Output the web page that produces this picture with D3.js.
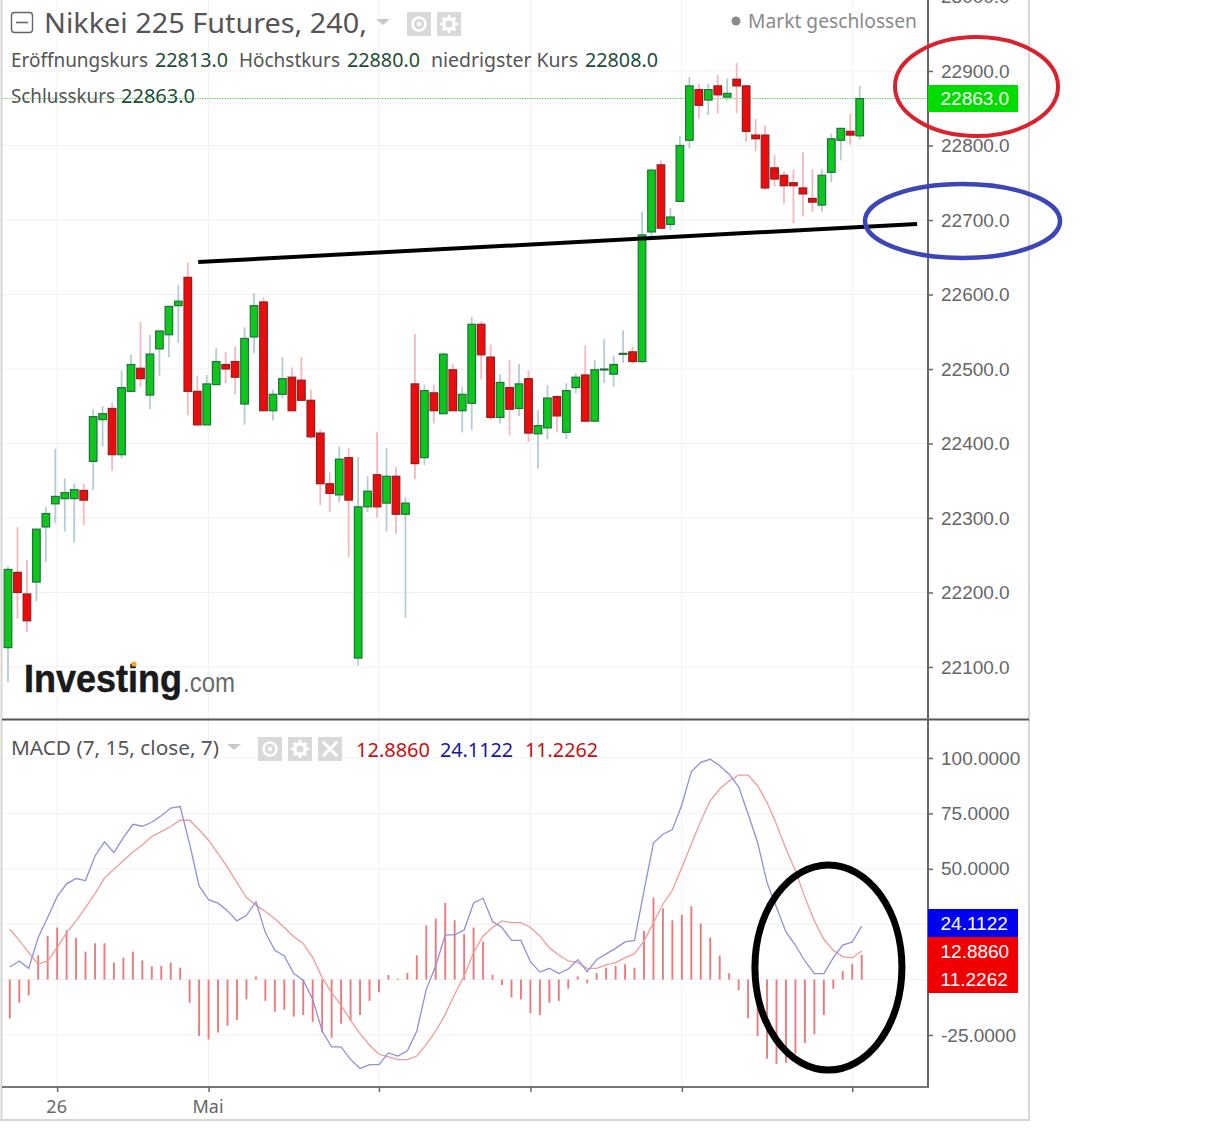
<!DOCTYPE html>
<html><head><meta charset="utf-8">
<script src="https://cdn.jsdelivr.net/npm/d3@7/dist/d3.min.js"></script>
<style>html,body{margin:0;padding:0;background:#fff}svg{display:block}</style>
</head><body><svg id="c" width="1225" height="1130"></svg>
<script>
const opens=[22126,22227,22198,22214,22288,22319,22326,22326,22337,22376,22432,22447,22385,22470,22501,22465,22527,22546,22585,22623,22470,22425,22479,22506,22510,22453,22543,22590,22444,22466,22489,22485,22458,22414,22346,22331,22381,22112,22315,22358,22320,22356,22305,22480,22381,22468,22440,22499,22444,22454,22560,22516,22435,22475,22447,22487,22413,22421,22463,22415,22475,22492,22430,22499,22493,22520,22523,22510,22684,22774,22694,22725,22807,22875,22861,22880,22865,22889,22880,22814,22814,22770,22760,22750,22743,22729,22720,22764,22807,22819,22813];
const highs=[22235,22288,22244,22285,22315,22393,22353,22346,22346,22446,22450,22455,22498,22519,22563,22546,22551,22584,22613,22643,22491,22492,22528,22523,22530,22556,22602,22596,22472,22516,22502,22516,22472,22419,22361,22396,22394,22382,22356,22415,22394,22368,22328,22547,22479,22479,22522,22507,22476,22570,22564,22533,22493,22512,22507,22498,22445,22478,22465,22481,22494,22532,22512,22540,22518,22552,22530,22711,22767,22780,22716,22813,22892,22883,22883,22895,22890,22911,22880,22836,22827,22787,22765,22768,22791,22768,22768,22816,22823,22843,22880];
const lows=[22080,22165,22147,22188,22241,22293,22282,22267,22291,22338,22396,22363,22380,22470,22476,22446,22491,22516,22535,22438,22425,22425,22479,22481,22466,22425,22521,22444,22431,22461,22444,22458,22406,22317,22308,22321,22248,22102,22308,22300,22282,22279,22166,22352,22371,22427,22440,22444,22415,22418,22486,22432,22427,22411,22437,22402,22366,22406,22415,22406,22467,22428,22430,22481,22476,22508,22507,22508,22675,22689,22687,22725,22796,22836,22841,22843,22861,22843,22805,22792,22740,22745,22722,22696,22705,22711,22711,22751,22780,22801,22808];
const closes=[22231,22200,22162,22285,22306,22329,22334,22338,22324,22436,22440,22385,22475,22506,22487,22520,22551,22584,22591,22470,22425,22480,22510,22500,22489,22541,22585,22444,22466,22487,22444,22458,22409,22346,22333,22379,22324,22315,22336,22315,22356,22305,22320,22373,22471,22444,22520,22444,22466,22560,22519,22435,22482,22446,22480,22414,22424,22461,22437,22471,22489,22430,22499,22500,22506,22521,22510,22680,22767,22689,22704,22800,22880,22854,22875,22868,22870,22880,22819,22809,22743,22755,22746,22746,22735,22724,22760,22809,22823,22814,22863];
const macdLine=[5.7,8.4,5.1,19.0,28.0,37.5,43.2,45.6,44.7,55.8,62.2,57.3,64.1,70.1,69.2,71.0,73.9,77.4,78.1,61.1,42.3,36.1,34.5,31.0,26.5,29.0,35.1,21.2,13.2,10.7,2.7,-0.3,-8.9,-23.2,-30.4,-30.4,-36.0,-40.1,-38.4,-38.4,-33.1,-34.5,-32.1,-23.2,-4.4,6.2,20.2,20.2,22.4,34.6,36.7,26.2,23.5,17.7,17.7,8.1,3.4,5.1,2.7,4.8,9.0,3.6,9.0,11.6,14.1,17.0,17.7,40.0,61.6,65.6,67.7,78.9,93.9,98.0,99.4,96.5,92.7,87.0,74.7,61.9,43.8,32.5,21.5,15.5,8.4,2.7,2.7,9.9,15.6,17.0,24.1122];
const signalLine=[22.7,17.7,12.2,6.9,8.4,14.4,21.1,26.5,32.5,38.8,45.8,49.8,53.6,57.6,60.7,64.6,66.8,69.1,71.9,71.9,67.6,62.9,56.9,50.6,43.8,37.0,33.6,30.7,27.5,23.5,19.3,16.2,9.9,0.9,-5.9,-11.6,-18.4,-24.4,-29.5,-33.7,-34.9,-36.1,-36.1,-34.5,-29.2,-23.2,-15.7,-6.6,1.6,12.2,19.7,23.5,26.5,25.7,25.7,23.5,19.7,14.4,11.1,8.4,7.7,5.1,5.1,6.6,7.7,9.9,11.7,17.4,25.7,34.0,40.3,50.6,61.1,71.6,80.7,86.0,89.7,92.3,92.3,87.5,79.9,70.1,58.9,49.1,37.0,26.5,18.2,13.2,10.4,9.8,12.886];
const histogram=[-17.5,-10.4,-7.1,11.0,19.7,23.5,22.3,18.8,12.6,16.4,16.4,7.7,9.9,12.6,8.6,6.0,6.2,7.7,5.4,-10.4,-25.5,-27.0,-23.9,-20.8,-18.2,-8.9,1.4,-9.6,-14.5,-13.6,-16.7,-16.0,-19.1,-23.9,-26.2,-19.9,-18.7,-16.0,-9.6,-5.7,2.1,0.5,3.0,11.0,24.4,27.5,34.6,26.8,20.5,23.5,17.2,2.2,-2.4,-8.1,-8.9,-15.2,-16.0,-10.4,-9.6,-4.1,1.4,-1.7,3.0,5.4,6.2,6.9,5.4,22.0,37.0,32.2,26.8,29.2,33.1,25.3,19.0,10.8,2.9,-4.8,-17.5,-25.5,-35.7,-38.0,-37.5,-33.4,-28.6,-24.7,-16.0,-4.1,3.9,7.1,11.2262];
const priceTicks=[22100,22200,22300,22400,22500,22600,22700,22800,22900,23000];
const macdTicks=[-25,0,25,50,75,100];
const macdHiddenLabels=[0,25];
const timeTickIndex=[5,21,39,55,71,89];
const timeTickLabels=['26','Mai','','','',''];
const lastPrice=22863;
const lastValues=[24.1122,12.8860,11.2262];
const trendIndex=[20.1,96.06];
const trendPrice=[22643.6,22694.6];
const redRing={idx:[93.73,110.96],val:[22945.6,22812.7]};
const blueRing={idx:[90.56,111.17],val:[22748.3,22649]};
const blackRing={idx:[78.72,94.25],val:[51.7,-40.8]};

const svg=d3.select('#c');
const x=d3.scaleLinear().domain([0,90]).range([8,859.7]);
const xm=d3.scaleLinear().domain([0,90]).range([9.8,861.7]);
const y=d3.scaleLinear().domain([22100,22900]).range([667,71]);
const ym=d3.scaleLinear().domain([-25,100]).range([1035,758]);
const AXF='"Liberation Sans",Arial,sans-serif', UIF='"Noto Sans",sans-serif';
const GRID='#f1f1f1', AX='#666';

// grid
const g=svg.append('g');
g.selectAll('.hp').data(priceTicks).join('line').attr('x1',2).attr('x2',928).attr('y1',d=>y(d)).attr('y2',d=>y(d)).attr('stroke',GRID);
g.selectAll('.hm').data(macdTicks).join('line').attr('x1',2).attr('x2',928).attr('y1',d=>ym(d)).attr('y2',d=>ym(d)).attr('stroke',GRID);
g.selectAll('.v').data(timeTickIndex).join('line').attr('x1',d=>xm(d)).attr('x2',d=>xm(d)).attr('y1',0).attr('y2',1087).attr('stroke',GRID);

// logo
const logo=svg.append('g');
logo.append('text').attr('x',24).attr('y',692).attr('font-family',AXF).attr('font-weight','bold').attr('font-size',39).attr('fill','#1a1a1a').attr('stroke','#1a1a1a').attr('stroke-width',.5).attr('textLength',158).attr('lengthAdjust','spacingAndGlyphs').text('Investing');
logo.append('text').attr('x',183).attr('y',692).attr('font-family',AXF).attr('font-size',27).attr('fill','#6b6b6b').attr('textLength',52).attr('lengthAdjust','spacingAndGlyphs').text('.com');
logo.append('circle').attr('cx',134).attr('cy',664).attr('r',2.6).attr('fill','#f5a623');

// last price line
svg.append('line').attr('x1',2).attr('x2',928).attr('y1',y(lastPrice)).attr('y2',y(lastPrice)).attr('stroke','#57d957').attr('stroke-width',1).attr('stroke-dasharray','1.5 1');

// candles
const idx=d3.range(opens.length);
const up=i=>closes[i]>=opens[i];
svg.append('g').selectAll('line').data(idx).join('line')
 .attr('x1',i=>x(i)).attr('x2',i=>x(i)).attr('y1',i=>y(highs[i])).attr('y2',i=>y(lows[i]))
 .attr('stroke',i=>up(i)?'#b4ccd3':'#f4b8bf').attr('stroke-width',1.8);
svg.append('g').selectAll('rect').data(idx).join('rect')
 .attr('x',i=>x(i)-3.8).attr('width',7.6)
 .attr('y',i=>y(Math.max(opens[i],closes[i])))
 .attr('height',i=>Math.max(1,Math.abs(y(opens[i])-y(closes[i]))))
 .attr('fill',i=>up(i)?'#0dc81c':'#ec0c0c')
 .attr('stroke',i=>up(i)?'#22703a':'#8e2020').attr('stroke-width',1.2);

// macd
svg.append('g').selectAll('line').data(histogram).join('line')
 .attr('x1',(d,i)=>xm(i)).attr('x2',(d,i)=>xm(i)).attr('y1',ym(0)).attr('y2',d=>ym(d))
 .attr('stroke','#ec7a7c').attr('stroke-width',1.9);
const ln=d3.line().x((d,i)=>xm(i)).y(d=>ym(d));
svg.append('path').attr('d',ln(signalLine)).attr('fill','none').attr('stroke','#f09b98').attr('stroke-width',1.3);
svg.append('path').attr('d',ln(macdLine)).attr('fill','none').attr('stroke','#8f90dc').attr('stroke-width',1.3);

// frame
const frame=[[1.5,0,1.5,1120,'#d6d6d6',2],[1029,0,1029,1120,'#d6d6d6',2],[0,1120,1030,1120,'#d6d6d6',2],[2,719.5,1029,719.5,'#555',2],[2,1087,929,1087,'#777',2],[928,0,928,1087,'#666',2]];
svg.append('g').selectAll('line').data(frame).join('line').attr('x1',d=>d[0]).attr('y1',d=>d[1]).attr('x2',d=>d[2]).attr('y2',d=>d[3]).attr('stroke',d=>d[4]).attr('stroke-width',d=>d[5]);

// axes
function styleAxis(s){s.select('.domain').remove();s.selectAll('.tick line').attr('stroke','#666').attr('stroke-width',1.5);
 s.selectAll('.tick text').attr('font-family',AXF).attr('font-size',19).attr('fill',AX);}
const fmtPrice=d3.format('.1f');
const fmtMacd=d=>macdHiddenLabels.includes(d)?'':d3.format('.4f')(d).replace('\u2212','-');
svg.append('g').attr('transform','translate(928,0)').call(d3.axisRight(y).tickValues(priceTicks).tickFormat(fmtPrice).tickSize(5).tickPadding(8)).call(styleAxis);
svg.append('g').attr('transform','translate(928,0)').call(d3.axisRight(ym).tickValues(macdTicks).tickFormat(fmtMacd).tickSize(5).tickPadding(8)).call(styleAxis);
const xa=svg.append('g').attr('transform','translate(0,1087)').call(d3.axisBottom(xm).tickValues(timeTickIndex).tickFormat((d,i)=>timeTickLabels[i]).tickSize(5).tickPadding(8)).call(styleAxis);
xa.selectAll('.tick text').attr('font-family',UIF).attr('font-size',18).attr('dx',-1);

// value tags
function tag(top,h,fill,txt){svg.append('rect').attr('x',928).attr('y',top).attr('width',90).attr('height',h).attr('fill',fill);
 svg.append('text').attr('x',940.5).attr('y',top+h/2).attr('dy','.36em').attr('font-family',AXF).attr('font-size',19).attr('fill','#fff').text(txt);}
tag(85,27,'#00dc00',d3.format('.1f')(lastPrice));
tag(909,28,'#0000f0',d3.format('.4f')(lastValues[0]));
tag(937,28,'#f00000',d3.format('.4f')(lastValues[1]));
tag(965,28,'#f00000',d3.format('.4f')(lastValues[2]));

// header text
function t(xp,yp,w,size,fill,s){svg.append('text').attr('x',xp).attr('y',yp).attr('font-family',UIF).attr('font-size',size).attr('fill',fill).attr('textLength',w).attr('lengthAdjust','spacingAndGlyphs').text(s);}
const LBL='#555', NUM='#1e4d36';
t(44,33,323,27,'#555','Nikkei 225 Futures, 240,');
t(11,67,137,19,LBL,'Eröffnungskurs');t(155,67,73,19,NUM,'22813.0');
t(239,67,101,19,LBL,'Höchstkurs');t(347,67,73,19,NUM,'22880.0');
t(431,67,147,19,LBL,'niedrigster Kurs');t(585,67,73,19,NUM,'22808.0');
t(11,103,104,19,LBL,'Schlusskurs');t(121,103,74,19,NUM,'22863.0');
t(748,28,169,19,'#8a8a8a','Markt geschlossen');
svg.append('circle').attr('cx',736).attr('cy',21).attr('r',4.5).attr('fill','#8a8a8a');
t(11,755,208,19,'#555','MACD (7, 15, close, 7)');
t(356,757,74,19,'#c41212',d3.format('.4f')(lastValues[1]));
t(440,757,73,19,'#1616a8',d3.format('.4f')(lastValues[0]));
t(525,757,73,19,'#c41212',d3.format('.4f')(lastValues[2]));

// header icons
svg.append('rect').attr('x',11.5).attr('y',12.5).attr('width',21).attr('height',20).attr('rx',3).attr('fill','#fff').attr('stroke','#666').attr('stroke-width',1.4);
svg.append('line').attr('x1',16).attr('x2',28).attr('y1',22.5).attr('y2',22.5).attr('stroke','#666').attr('stroke-width',1.6);
function tri(cx,cy){svg.append('path').attr('d',d3.line()([[cx-7,cy-3],[cx+7,cy-3],[cx,cy+3]])+'Z').attr('fill','#c8c8c8');}
tri(383,22);tri(234,747);
function box(xp,yp,w,kind){svg.append('rect').attr('x',xp).attr('y',yp).attr('width',w).attr('height',w).attr('fill','#d9d9d9');
 const cx=xp+w/2,cy=yp+w/2;
 if(kind==='eye'){svg.append('circle').attr('cx',cx).attr('cy',cy).attr('r',w*.27).attr('fill','none').attr('stroke','#fff').attr('stroke-width',2.6);
  svg.append('circle').attr('cx',cx).attr('cy',cy).attr('r',w*.09).attr('fill','#fff');}
 if(kind==='gear'){svg.append('circle').attr('cx',cx).attr('cy',cy).attr('r',w*.22).attr('fill','none').attr('stroke','#fff').attr('stroke-width',3.4);
  d3.range(8).forEach(k=>{const a=k*Math.PI/4;svg.append('line').attr('x1',cx+Math.cos(a)*w*.26).attr('y1',cy+Math.sin(a)*w*.26).attr('x2',cx+Math.cos(a)*w*.38).attr('y2',cy+Math.sin(a)*w*.38).attr('stroke','#fff').attr('stroke-width',2.6);});}
 if(kind==='x'){[[-1,-1,1,1],[-1,1,1,-1]].forEach(q=>svg.append('line').attr('x1',cx+q[0]*w*.3).attr('y1',cy+q[1]*w*.3).attr('x2',cx+q[2]*w*.3).attr('y2',cy+q[3]*w*.3).attr('stroke','#fff').attr('stroke-width',3));}
}
box(407,12,24,'eye');box(437,12,24,'gear');
box(258,737,24,'eye');box(288,737,24,'gear');box(318,737,24,'x');

// hand annotations
svg.append('line').attr('x1',x(trendIndex[0])).attr('x2',x(trendIndex[1])).attr('y1',y(trendPrice[0])).attr('y2',y(trendPrice[1])).attr('stroke','#000').attr('stroke-width',4);
function ring(r,sx,sy,col,w){const a=sx(r.idx[0]),b=sx(r.idx[1]),c=sy(r.val[0]),d=sy(r.val[1]);
 svg.append('ellipse').attr('cx',(a+b)/2).attr('cy',(c+d)/2).attr('rx',(b-a)/2).attr('ry',(d-c)/2).attr('fill','none').attr('stroke',col).attr('stroke-width',w);}
ring(redRing,x,y,'#d8222e',4);
ring(blueRing,x,y,'#3c46b6',4.5);
ring(blackRing,xm,ym,'#000',7);
</script></body></html>
